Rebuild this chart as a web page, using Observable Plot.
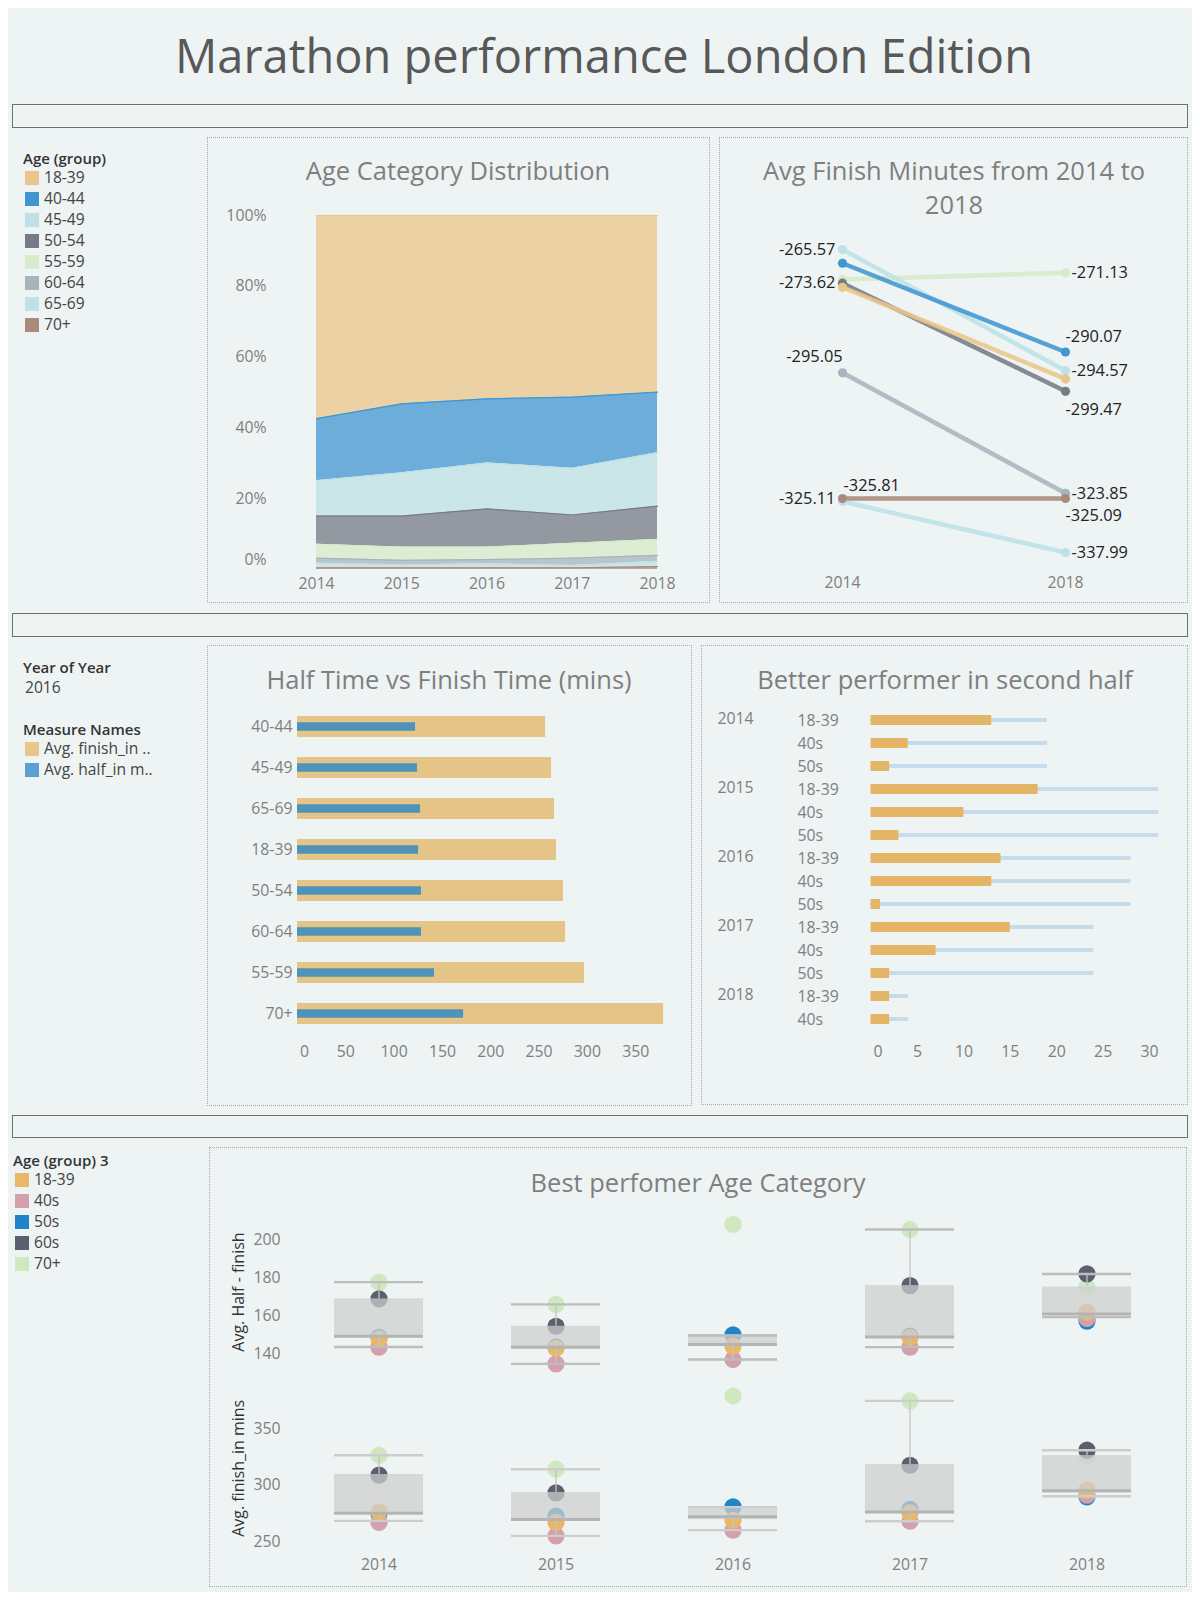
<!DOCTYPE html>
<html>
<head>
<meta charset="utf-8">
<script src="https://cdn.jsdelivr.net/npm/d3@7"></script>
<script src="https://cdn.jsdelivr.net/npm/@observablehq/plot@0.6"></script>
<style>
html,body{margin:0;padding:0;background:#ffffff;}
#root{position:relative;width:1200px;height:1600px;font-family:"Open Sans",Lato,sans-serif;overflow:hidden;}
.bg{position:absolute;left:8px;top:8px;width:1184px;height:1584px;background:#eef3f3;}
.ctr{position:absolute;transform:translate(-50%,-50%);white-space:nowrap;line-height:1;}
.lft{position:absolute;transform:translateY(-50%);white-space:nowrap;line-height:1;}
.strip{position:absolute;left:12px;width:1176px;border:1px solid #6e6e6e;box-sizing:border-box;}
.panel{position:absolute;border:1px dotted #a9a9a9;box-sizing:border-box;}
.ptitle{color:#7f7f7f;font-size:25.5px;}
.sw{position:absolute;width:14px;height:14px;}
.holder{position:absolute;}
.holder svg{overflow:visible;}
</style>
</head>
<body>
<div id="root"><div class="bg"></div></div>
<script>
// ---------------- DATA ----------------
const years = [2014, 2015, 2016, 2017, 2018];
const ageGroups = ["18-39", "40-44", "45-49", "50-54", "55-59", "60-64", "65-69", "70+"];

// Age Category Distribution: share of finishers (%) per year
const share_18_39 = [57.4, 53.2, 51.8, 51.3, 49.9];
const share_40_44 = [17.5, 19.5, 18.1, 20.1, 17.1];
const share_45_49 = [10.0, 12.2, 13.0, 13.2, 15.1];
const share_50_54 = [8.0, 8.8, 10.8, 8.0, 9.4];
const share_55_59 = [3.9, 3.7, 3.5, 4.2, 4.5];
const share_60_64 = [1.4, 1.3, 1.2, 2.1, 1.7];
const share_65_69 = [1.3, 0.8, 1.1, 0.6, 1.5];
const share_70p   = [0.5, 0.5, 0.5, 0.5, 0.8];

// Avg finish minutes (negated) 2014 and 2018, in ageGroups order
const slopeYears = [2014, 2018];
const finish2014 = [-274.6, -268.85, -265.57, -273.62, -272.76, -295.05, -325.81, -325.11];
const finish2018 = [-296.5, -290.07, -294.57, -299.47, -271.13, -323.85, -337.99, -325.09];

// Half time vs finish time (mins), 2016
const halfGroups = ["40-44", "45-49", "65-69", "18-39", "50-54", "60-64", "55-59", "70+"];
const finish2016 = [256.7, 262.9, 266.0, 268.0, 275.3, 277.4, 297.0, 378.9];
const half2016   = [122.2, 124.2, 127.3, 125.3, 128.3, 128.3, 141.8, 171.9];
const halfTicks = [0, 50, 100, 150, 200, 250, 300, 350];

// Better performer in second half
const bpYear  = [2014, 2014, 2014, 2015, 2015, 2015, 2016, 2016, 2016, 2017, 2017, 2017, 2018, 2018];
const bpGroup = ["18-39", "40s", "50s", "18-39", "40s", "50s", "18-39", "40s", "50s", "18-39", "40s", "50s", "18-39", "40s"];
const bpCount = [13, 4, 2, 18, 10, 3, 14, 13, 1, 15, 7, 2, 2, 2];
const bpTotal = [19, 19, 19, 31, 31, 31, 28, 28, 28, 24, 24, 24, 4, 4];
const bpTicks = [0, 5, 10, 15, 20, 25, 30];

// Best performer age category (age group 3), per year
const boxGroups = ["18-39", "40s", "50s", "60s", "70+"];
const halfDiff_18_39 = [147.9, 142.9, 144.0, 148.6, 161.9];
const halfDiff_40s   = [143.5, 134.7, 137.0, 143.5, 158.6];
const halfDiff_50s   = [148.7, 143.5, 150.0, 149.3, 157.2];
const halfDiff_60s   = [168.9, 154.5, null, 175.9, 182.1];
const halfDiff_70p   = [177.7, 166.0, 208.1, 205.4, 175.1];
const finish_18_39 = [276.3, 267.0, 268.9, 275.4, 295.6];
const finish_40s   = [266.9, 255.0, 260.1, 268.0, 291.1];
const finish_50s   = [274.8, 272.5, 280.8, 278.5, 289.7];
const finish_60s   = [308.9, 293.2, null, 317.7, 331.1];
const finish_70p   = [326.6, 314.2, 379.2, 374.8, 325.1];
// box plot statistics
const halfQ1  = [148.5, 143.2, 144.0, 148.5, 160.3];
const halfMed = [149.2, 143.5, 144.9, 148.9, 161.0];
const halfQ3  = [168.9, 154.5, 150.0, 175.9, 175.2];
const halfLo  = [143.6, 134.7, 137.0, 143.5, 159.3];
const halfHi  = [177.7, 166.0, 149.6, 205.4, 182.0];
const finQ1  = [274.9, 267.8, 269.5, 276.0, 293.2];
const finMed = [275.2, 269.5, 271.9, 276.3, 295.0];
const finQ3  = [309.5, 293.5, 280.8, 318.3, 326.3];
const finLo  = [268.3, 255.0, 260.1, 268.0, 290.2];
const finHi  = [326.6, 314.2, 280.5, 374.8, 331.0];
const halfAxisTicks = [140, 160, 180, 200];
const finAxisTicks = [250, 300, 350];

// ---------------- STYLE ----------------
const ageColors = ["#ebc68a", "#4096d1", "#bde1e6", "#767b86", "#d5ebc9", "#a8b4bd", "#bde1e6", "#a98b7c"];
const boxColors = ["#e8b868", "#d3a0ac", "#2085c8", "#5b606f", "#cfe8c0"];
const plotStyle = {background: "transparent", fontFamily: "'Open Sans', Lato, sans-serif", fontSize: "15.8px", color: "#7f7f7f", overflow: "visible"};

const root = document.getElementById("root");
function el(tag, cls, css, text) {
  const d = document.createElement(tag);
  if (cls) d.className = cls;
  Object.assign(d.style, css || {});
  if (text != null) d.textContent = text;
  root.appendChild(d);
  return d;
}
function px(v) { return v + "px"; }
function hold(svg, left, top) {
  const h = el("div", "holder", {left: px(left), top: px(top)});
  h.appendChild(svg);
}

// Title and strips
el("div", "ctr", {left: px(604), top: px(55), fontSize: "47px", color: "#585858"}, "Marathon performance London Edition");
[[104, 24], [613, 24], [1115, 23]].forEach(([t, h]) => el("div", "strip", {top: px(t), height: px(h)}));

// Panels
[[207, 137, 503, 466], [719, 137, 469, 466], [207, 645, 485, 461], [701, 645, 487, 460], [209, 1147, 978, 440]]
  .forEach(([l, t, w, h]) => el("div", "panel", {left: px(l), top: px(t), width: px(w), height: px(h)}));

// Panel titles
el("div", "ctr ptitle", {left: px(458), top: px(171)}, "Age Category Distribution");
el("div", "ctr ptitle", {left: px(954), top: px(171)}, "Avg Finish Minutes from 2014 to");
el("div", "ctr ptitle", {left: px(954), top: px(205)}, "2018");
el("div", "ctr ptitle", {left: px(449), top: px(680)}, "Half Time vs Finish Time (mins)");
el("div", "ctr ptitle", {left: px(945), top: px(680)}, "Better performer in second half");
el("div", "ctr ptitle", {left: px(698), top: px(1183)}, "Best perfomer Age Category");

// Legends
function legend(x, titleY, title, items, colors, firstY, swX, textX) {
  el("div", "lft", {left: px(x), top: px(titleY), fontSize: "15px", color: "#333", fontWeight: "600"}, title);
  items.forEach((it, i) => {
    const cy = firstY + i * 21;
    el("div", "sw", {left: px(swX), top: px(cy - 7), background: colors[i]});
    el("div", "lft", {left: px(textX), top: px(cy), fontSize: "15.6px", color: "#444"}, it);
  });
}
legend(23, 158, "Age (group)", ageGroups, ageColors, 178, 25, 44);
legend(13, 1160, "Age (group) 3", boxGroups, boxColors, 1179.5, 15, 34);
el("div", "lft", {left: px(23), top: px(667), fontSize: "15px", color: "#333", fontWeight: "600"}, "Year of Year");
el("div", "lft", {left: px(25), top: px(688), fontSize: "15.6px", color: "#444"}, "2016");
legend(23, 729, "Measure Names", ["Avg. finish_in ..", "Avg. half_in m.."], ["#ebc68a", "#5aa1d2"], 749, 25, 44);

// ---------------- Chart A: stacked area ----------------
const shareSeries = [share_18_39, share_40_44, share_45_49, share_50_54, share_55_59, share_60_64, share_65_69, share_70p];
const areaRows = ageGroups.flatMap((g, i) => years.map((yr, j) => ({group: g, year: yr, pct: shareSeries[i][j]})));
const stackOrder = ["70+", "65-69", "60-64", "55-59", "50-54", "45-49", "40-44", "18-39"];
const chartA = Plot.plot({
  width: 503, height: 466, marginLeft: 109, marginRight: 53, marginTop: 78, marginBottom: 34,
  style: plotStyle,
  x: {domain: [2014, 2018]},
  y: {domain: [0, 100]},
  color: {domain: ageGroups, range: ageColors},
  marks: [
    Plot.areaY(areaRows, Plot.stackY({x: "year", y: "pct", fill: "group", order: stackOrder, fillOpacity: 0.75})),
    Plot.lineY(areaRows, Plot.stackY2({x: "year", y: "pct", z: "group", stroke: "group", order: stackOrder, strokeWidth: 1.2})),
    Plot.axisX({ticks: years, tickFormat: "d", tickSize: 0, tickPadding: 8, label: null}),
    Plot.axisY({ticks: [20, 40, 60, 80, 100], tickFormat: d => d + "%", tickSize: 0, tickPadding: 50, label: null}),
    Plot.axisY({ticks: [0], tickFormat: d => d + "%", tickSize: 0, tickPadding: 50, dy: -10, label: null})
  ]
});
hold(chartA, 207, 137);

// ---------------- Chart B: slope ----------------
const slopeOrder = ["65-69", "60-64", "70+", "55-59", "50-54", "45-49", "18-39", "40-44"];
const slopeRows = slopeOrder.flatMap(g => {
  const i = ageGroups.indexOf(g);
  return [{group: g, year: 2014, v: finish2014[i]}, {group: g, year: 2018, v: finish2018[i]}];
});
// label placement (style only)
const labelLayout = {
  "45-49|2014": {dx: -7, dy: 0, a: "end"},
  "50-54|2014": {dx: -7, dy: 0, a: "end"},
  "60-64|2014": {dx: -28, dy: -16, a: "middle"},
  "70+|2014": {dx: -7, dy: 0, a: "end"},
  "65-69|2014": {dx: 1, dy: -16, a: "start"},
  "55-59|2018": {dx: 6, dy: 0, a: "start"},
  "40-44|2018": {dx: 0, dy: -15, a: "start"},
  "45-49|2018": {dx: 6, dy: 0, a: "start"},
  "50-54|2018": {dx: 0, dy: 18, a: "start"},
  "60-64|2018": {dx: 6, dy: 0, a: "start"},
  "70+|2018": {dx: 0, dy: 17, a: "start"},
  "65-69|2018": {dx: 6, dy: 0, a: "start"}
};
const labelMarks = slopeRows.filter(d => labelLayout[d.group + "|" + d.year]).map(d => {
  const L = labelLayout[d.group + "|" + d.year];
  return Plot.text([d], {x: "year", y: "v", text: r => r.v.toFixed(2), dx: L.dx, dy: L.dy, textAnchor: L.a, fill: "#222", fontSize: 16.4});
});
const chartB = Plot.plot({
  width: 469, height: 466, marginLeft: 123, marginRight: 123, marginTop: 88.7, marginBottom: 42.6,
  style: plotStyle,
  x: {domain: [2014, 2018]},
  y: {domain: [-340, -260], axis: null},
  color: {domain: ageGroups, range: ageColors},
  marks: [
    Plot.line(slopeRows, {x: "year", y: "v", z: "group", stroke: "group", strokeWidth: 4.5, strokeOpacity: 0.88}),
    Plot.dot(slopeRows, {x: "year", y: "v", fill: "group", r: 4.6}),
    ...labelMarks,
    Plot.axisX({ticks: slopeYears, tickFormat: "d", tickSize: 0, tickPadding: 16, label: null})
  ]
});
hold(chartB, 719, 137);

// ---------------- Chart C: half vs finish ----------------
const halfRows = halfGroups.map((g, i) => ({group: g, finish: finish2016[i], half: half2016[i]}));
const chartC = Plot.plot({
  width: 485, height: 461, marginLeft: 90, marginRight: 23, marginTop: 50.25, marginBottom: 62.25,
  style: plotStyle,
  x: {domain: [0, 385]},
  y: {domain: halfGroups, padding: 0.5},
  marks: [
    Plot.barX(halfRows, {x: "finish", y: "group", fill: "#e5c488"}),
    Plot.barX(halfRows, {x: "half", y: "group", fill: "#5093b8", insetTop: 6.25, insetBottom: 6.25}),
    Plot.axisX({ticks: halfTicks.slice(1), tickSize: 0, tickPadding: 2, label: null}),
    Plot.axisX({ticks: [0], tickSize: 0, tickPadding: 2, dx: 7, label: null}),
    Plot.axisY({tickSize: 0, tickPadding: 5, label: null})
  ]
});
hold(chartC, 207, 645);

// ---------------- Chart D: better performer ----------------
const bpRows = bpYear.map((yr, i) => ({key: yr + "|" + bpGroup[i], year: yr, group: bpGroup[i], count: bpCount[i], total: bpTotal[i]}));
const bpFirst = bpRows.filter((d, i) => i === 0 || bpRows[i - 1].year !== d.year);
const chartD = Plot.plot({
  width: 487, height: 460, marginLeft: 169.6, marginRight: 20.4, marginTop: 54.4, marginBottom: 66.1,
  style: plotStyle,
  x: {domain: [0, 32]},
  y: {domain: bpRows.map(d => d.key), padding: 0.57},
  marks: [
    Plot.barX(bpRows, {x: "total", y: "key", fill: "#c6dcea", insetTop: 3, insetBottom: 3}),
    Plot.barX(bpRows, {x: "count", y: "key", fill: "#e4b567"}),
    Plot.axisX({ticks: bpTicks.slice(1), tickSize: 0, tickPadding: 6.5, label: null}),
    Plot.axisX({ticks: [0], tickSize: 0, tickPadding: 6.5, dx: 7, label: null}),
    Plot.axisY({tickSize: 0, tickPadding: 73.6, textAnchor: "start", tickFormat: k => k.split("|")[1], label: null}),
    Plot.text(bpFirst, {y: "key", text: d => String(d.year), frameAnchor: "left", textAnchor: "start", dx: -153.6, dy: -2, fill: "#7f7f7f", fontSize: 15.8})
  ]
});
hold(chartD, 701, 645);

// ---------------- Chart E: box plots ----------------
const drawOrder = ["70+", "50s", "40s", "18-39", "60s"];
function dotRows(series) {
  return drawOrder.flatMap(g => {
    const s = series[boxGroups.indexOf(g)];
    return years.map((yr, j) => ({year: String(yr), group: g, v: s[j]})).filter(d => d.v != null);
  });
}
function boxRows(q1, med, q3, lo, hi) {
  return years.map((yr, j) => ({year: String(yr), q1: q1[j], med: med[j], q3: q3[j], lo: lo[j], hi: hi[j]}));
}
function boxMarks(dots, boxes, capColor) {
  return [
    Plot.dot(dots, {x: "year", y: "v", fill: "group", r: 8.6}),
    Plot.barY(boxes, {x: "year", y1: "q1", y2: "q3", fill: "#cfcfcf", fillOpacity: 0.72}),
    Plot.ruleX(boxes, {x: "year", y1: "q3", y2: "hi", stroke: "#c4c4c4", strokeWidth: 1.3}),
    Plot.ruleX(boxes, {x: "year", y1: "lo", y2: "q1", stroke: "#c4c4c4", strokeWidth: 1.3}),
    Plot.tickY(boxes, {x: "year", y: "hi", stroke: capColor, strokeWidth: 2.4}),
    Plot.tickY(boxes, {x: "year", y: "lo", stroke: capColor, strokeWidth: 2.4}),
    Plot.tickY(boxes, {x: "year", y: "med", stroke: "#b4b4b4", strokeWidth: 3})
  ];
}
const colorE = {domain: boxGroups, range: boxColors};
const halfDots = dotRows([halfDiff_18_39, halfDiff_40s, halfDiff_50s, halfDiff_60s, halfDiff_70p]);
const finDots = dotRows([finish_18_39, finish_40s, finish_50s, finish_60s, finish_70p]);

const chartE1 = Plot.plot({
  width: 978, height: 225.3, marginLeft: 79.1, marginRight: 10.1, marginTop: 63.8, marginBottom: 0,
  style: plotStyle,
  x: {type: "band", domain: years.map(String), paddingInner: 0.5, paddingOuter: 0.25, axis: null},
  y: {domain: [130, 215]},
  color: colorE,
  marks: [
    ...boxMarks(halfDots, boxRows(halfQ1, halfMed, halfQ3, halfLo, halfHi), "#bdbdbd"),
    Plot.axisY({ticks: halfAxisTicks, tickSize: 0, tickPadding: 8, label: null}),
    Plot.text(["Avg. Half - finish"], {frameAnchor: "left", textAnchor: "middle", rotate: -90, dx: -50, fill: "#333", fontSize: 16})
  ]
});
hold(chartE1, 209, 1147);

const chartE2 = Plot.plot({
  width: 978, height: 214.7, marginLeft: 79.1, marginRight: 10.1, marginTop: 11.3, marginBottom: 34.4,
  style: plotStyle,
  x: {type: "band", domain: years.map(String), paddingInner: 0.5, paddingOuter: 0.25},
  y: {domain: [240, 390]},
  color: colorE,
  marks: [
    ...boxMarks(finDots, boxRows(finQ1, finMed, finQ3, finLo, finHi), "#cdcdcd"),
    Plot.axisY({ticks: finAxisTicks, tickSize: 0, tickPadding: 8, label: null}),
    Plot.axisX({tickSize: 0, tickPadding: 6, label: null}),
    Plot.text(["Avg. finish_in mins"], {frameAnchor: "left", textAnchor: "middle", rotate: -90, dx: -50, fill: "#333", fontSize: 16})
  ]
});
hold(chartE2, 209, 1372.3);
</script>
</body>
</html>
